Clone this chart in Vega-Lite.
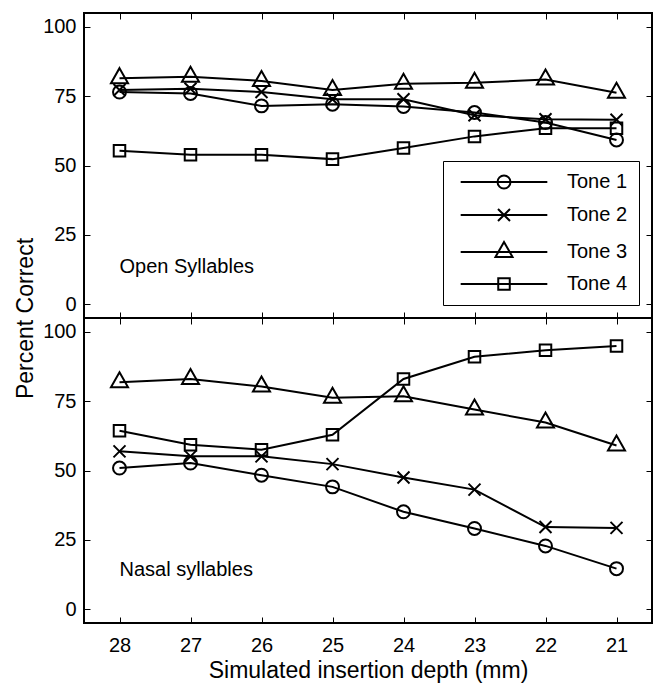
{
  "$schema": "https://vega.github.io/schema/vega-lite/v6.json",
  "padding": {"left": 13, "top": 11, "right": 6, "bottom": 5},
  "bounds": "flush",
  "spacing": 0,
  "config": {
    "view": {"stroke": "black", "strokeWidth": 2},
    "font": "Liberation Sans",
    "axis": {"grid": false, "domain": false, "tickColor": "black", "tickSize": -6, "tickWidth": 1, "labelColor": "black", "labelFont": "Liberation Sans", "labelFontSize": 20, "titleFont": "Liberation Sans", "titleFontSize": 23, "titleFontWeight": "normal", "titleColor": "black"}
  },
  "datasets": {
    "d": [
      {"panel": "Open", "tone": "Tone 1", "depth": 28, "pct": 76.5},
      {"panel": "Open", "tone": "Tone 1", "depth": 27, "pct": 76},
      {"panel": "Open", "tone": "Tone 1", "depth": 26, "pct": 71.5},
      {"panel": "Open", "tone": "Tone 1", "depth": 25, "pct": 72.1},
      {"panel": "Open", "tone": "Tone 1", "depth": 24, "pct": 71.3},
      {"panel": "Open", "tone": "Tone 1", "depth": 23, "pct": 69.1},
      {"panel": "Open", "tone": "Tone 1", "depth": 22, "pct": 65.5},
      {"panel": "Open", "tone": "Tone 1", "depth": 21, "pct": 59.2},
      {"panel": "Open", "tone": "Tone 2", "depth": 28, "pct": 77.2},
      {"panel": "Open", "tone": "Tone 2", "depth": 27, "pct": 77.7},
      {"panel": "Open", "tone": "Tone 2", "depth": 26, "pct": 76.5},
      {"panel": "Open", "tone": "Tone 2", "depth": 25, "pct": 73.9},
      {"panel": "Open", "tone": "Tone 2", "depth": 24, "pct": 73.9},
      {"panel": "Open", "tone": "Tone 2", "depth": 23, "pct": 68.1},
      {"panel": "Open", "tone": "Tone 2", "depth": 22, "pct": 66.7},
      {"panel": "Open", "tone": "Tone 2", "depth": 21, "pct": 66.5},
      {"panel": "Open", "tone": "Tone 3", "depth": 28, "pct": 81.5},
      {"panel": "Open", "tone": "Tone 3", "depth": 27, "pct": 82},
      {"panel": "Open", "tone": "Tone 3", "depth": 26, "pct": 80.5},
      {"panel": "Open", "tone": "Tone 3", "depth": 25, "pct": 77.2},
      {"panel": "Open", "tone": "Tone 3", "depth": 24, "pct": 79.5},
      {"panel": "Open", "tone": "Tone 3", "depth": 23, "pct": 79.8},
      {"panel": "Open", "tone": "Tone 3", "depth": 22, "pct": 81},
      {"panel": "Open", "tone": "Tone 3", "depth": 21, "pct": 76.2},
      {"panel": "Open", "tone": "Tone 4", "depth": 28, "pct": 55.3},
      {"panel": "Open", "tone": "Tone 4", "depth": 27, "pct": 53.9},
      {"panel": "Open", "tone": "Tone 4", "depth": 26, "pct": 53.9},
      {"panel": "Open", "tone": "Tone 4", "depth": 25, "pct": 52.3},
      {"panel": "Open", "tone": "Tone 4", "depth": 24, "pct": 56.3},
      {"panel": "Open", "tone": "Tone 4", "depth": 23, "pct": 60.5},
      {"panel": "Open", "tone": "Tone 4", "depth": 22, "pct": 63.4},
      {"panel": "Open", "tone": "Tone 4", "depth": 21, "pct": 63.4},
      {"panel": "Nasal", "tone": "Tone 1", "depth": 28, "pct": 50.9},
      {"panel": "Nasal", "tone": "Tone 1", "depth": 27, "pct": 52.7},
      {"panel": "Nasal", "tone": "Tone 1", "depth": 26, "pct": 48.3},
      {"panel": "Nasal", "tone": "Tone 1", "depth": 25, "pct": 44.1},
      {"panel": "Nasal", "tone": "Tone 1", "depth": 24, "pct": 35.1},
      {"panel": "Nasal", "tone": "Tone 1", "depth": 23, "pct": 29.1},
      {"panel": "Nasal", "tone": "Tone 1", "depth": 22, "pct": 22.8},
      {"panel": "Nasal", "tone": "Tone 1", "depth": 21, "pct": 14.6},
      {"panel": "Nasal", "tone": "Tone 2", "depth": 28, "pct": 56.9},
      {"panel": "Nasal", "tone": "Tone 2", "depth": 27, "pct": 55.1},
      {"panel": "Nasal", "tone": "Tone 2", "depth": 26, "pct": 55.1},
      {"panel": "Nasal", "tone": "Tone 2", "depth": 25, "pct": 52.3},
      {"panel": "Nasal", "tone": "Tone 2", "depth": 24, "pct": 47.5},
      {"panel": "Nasal", "tone": "Tone 2", "depth": 23, "pct": 43.1},
      {"panel": "Nasal", "tone": "Tone 2", "depth": 22, "pct": 29.6},
      {"panel": "Nasal", "tone": "Tone 2", "depth": 21, "pct": 29.3},
      {"panel": "Nasal", "tone": "Tone 3", "depth": 28, "pct": 81.8},
      {"panel": "Nasal", "tone": "Tone 3", "depth": 27, "pct": 83},
      {"panel": "Nasal", "tone": "Tone 3", "depth": 26, "pct": 80.3},
      {"panel": "Nasal", "tone": "Tone 3", "depth": 25, "pct": 76.2},
      {"panel": "Nasal", "tone": "Tone 3", "depth": 24, "pct": 76.8},
      {"panel": "Nasal", "tone": "Tone 3", "depth": 23, "pct": 72},
      {"panel": "Nasal", "tone": "Tone 3", "depth": 22, "pct": 67.3},
      {"panel": "Nasal", "tone": "Tone 3", "depth": 21, "pct": 59},
      {"panel": "Nasal", "tone": "Tone 4", "depth": 28, "pct": 64.3},
      {"panel": "Nasal", "tone": "Tone 4", "depth": 27, "pct": 59.3},
      {"panel": "Nasal", "tone": "Tone 4", "depth": 26, "pct": 57.5},
      {"panel": "Nasal", "tone": "Tone 4", "depth": 25, "pct": 62.9},
      {"panel": "Nasal", "tone": "Tone 4", "depth": 24, "pct": 83},
      {"panel": "Nasal", "tone": "Tone 4", "depth": 23, "pct": 91},
      {"panel": "Nasal", "tone": "Tone 4", "depth": 22, "pct": 93.4},
      {"panel": "Nasal", "tone": "Tone 4", "depth": 21, "pct": 94.9}
    ]
  },
  "resolve": {"scale": {"shape": "independent", "color": "independent"}, "legend": {"shape": "independent", "color": "independent"}},
  "vconcat": [
    {
      "width": 568,
      "height": 305,
      "resolve": {"axis": {"x": "independent", "y": "independent"}},
      "layer": [
        {
          "data": {"name": "d"},
          "transform": [{"filter": "datum.panel === 'Open'"}],
          "mark": {"type": "line", "color": "black", "strokeWidth": 2},
          "encoding": {
            "x": {"field": "depth", "type": "quantitative", "scale": {"domain": [28.5, 20.5], "nice": false, "zero": false}, "axis": {"orient": "bottom", "values": [21, 22, 23, 24, 25, 26, 27, 28], "labels": false, "title": null}},
            "y": {"field": "pct", "type": "quantitative", "scale": {"domain": [-5, 105], "nice": false, "zero": false}, "axis": {"orient": "left", "values": [0, 25, 50, 75, 100], "labelPadding": 14, "title": "Percent Correct", "titleY": 305, "titlePadding": 5}},
            "detail": {"field": "tone", "type": "nominal"}
          }
        },
        {
          "data": {"name": "d"},
          "transform": [{"filter": "datum.panel === 'Open'"}],
          "mark": {"type": "point", "filled": false, "strokeWidth": 2, "size": 144, "opacity": 1},
          "encoding": {
            "x": {"field": "depth", "type": "quantitative", "axis": {"orient": "top", "values": [21, 22, 23, 24, 25, 26, 27, 28], "labels": false, "title": null}},
            "y": {"field": "pct", "type": "quantitative", "axis": {"orient": "right", "values": [0, 25, 50, 75, 100], "labels": false, "title": null}},
            "shape": {
              "field": "tone", "type": "nominal",
              "scale": {"domain": ["Tone 1", "Tone 2", "Tone 3", "Tone 4"], "range": ["M1.08,0A1.08,1.08,0,1,1,-1.08,0A1.08,1.08,0,1,1,1.08,0Z", "M-1,-1L1,1M-1,1L1,-1", "M0,-1.67L1.42,0.83L-1.42,0.83Z", "M-0.96,-0.96H0.96V0.96H-0.96Z"]},
              "legend": null
            },
            "color": {
              "field": "tone", "type": "nominal",
              "scale": {"range": ["black", "black", "black", "black"]},
              "legend": {
                "orient": "bottom-right", "offset": 13, "title": null,
                "padding": 11, "strokeColor": "black", "fillColor": "white",
                "symbolSize": 144, "symbolStrokeWidth": 2, "symbolFillColor": "transparent", "symbolOpacity": 1,
                "symbolType": {"expr": "datum.value === 'Tone 1' ? 'M-7.22,0H7.22M1.08,0A1.08,1.08,0,1,1,-1.08,0A1.08,1.08,0,1,1,1.08,0Z' : datum.value === 'Tone 2' ? 'M-7.22,0H7.22M-1,-1L1,1M-1,1L1,-1' : datum.value === 'Tone 3' ? 'M-7.22,0H7.22M0,-1.67L1.42,0.83L-1.42,0.83Z' : 'M-7.22,0H7.22M-0.96,-0.96H0.96V0.96H-0.96Z'"},
                "symbolOffset": 40, "labelOffset": 53, "labelFontSize": 20, "labelFont": "Liberation Sans", "labelColor": "black",
                "rowPadding": 12, "labelExpr": "datum.label + '    \u2009'",
                "encode": {
                  "legend": {"strokeWidth": {"value": 1.5}}
                }
              }
            }
          }
        },
        {
          "data": {"values": [{"label": "Open Syllables"}]},
          "mark": {"type": "text", "align": "left", "baseline": "middle", "fontSize": 20, "font": "Liberation Sans", "color": "black"},
          "encoding": {
            "x": {"datum": 28, "type": "quantitative", "axis": null},
            "y": {"datum": 13.4, "type": "quantitative", "axis": null},
            "text": {"field": "label", "type": "nominal"}
          }
        }
      ]
    },
    {
      "width": 568,
      "height": 305,
      "resolve": {"axis": {"x": "independent", "y": "independent"}},
      "layer": [
        {
          "data": {"name": "d"},
          "transform": [{"filter": "datum.panel === 'Nasal'"}],
          "mark": {"type": "line", "color": "black", "strokeWidth": 2},
          "encoding": {
            "x": {"field": "depth", "type": "quantitative", "scale": {"domain": [28.5, 20.5], "nice": false, "zero": false}, "axis": {"orient": "bottom", "values": [21, 22, 23, 24, 25, 26, 27, 28], "labelPadding": 18, "title": "Simulated insertion depth (mm)", "titlePadding": 4}},
            "y": {"field": "pct", "type": "quantitative", "scale": {"domain": [-5, 105], "nice": false, "zero": false}, "axis": {"orient": "left", "values": [0, 25, 50, 75, 100], "labelPadding": 14, "title": null}},
            "detail": {"field": "tone", "type": "nominal"}
          }
        },
        {
          "data": {"name": "d"},
          "transform": [{"filter": "datum.panel === 'Nasal'"}],
          "mark": {"type": "point", "filled": false, "stroke": "black", "strokeWidth": 2, "size": 144, "opacity": 1},
          "encoding": {
            "x": {"field": "depth", "type": "quantitative", "axis": {"orient": "top", "values": [21, 22, 23, 24, 25, 26, 27, 28], "labels": false, "title": null}},
            "y": {"field": "pct", "type": "quantitative", "axis": {"orient": "right", "values": [0, 25, 50, 75, 100], "labels": false, "title": null}},
            "shape": {
              "field": "tone", "type": "nominal",
              "scale": {"domain": ["Tone 1", "Tone 2", "Tone 3", "Tone 4"], "range": ["M1.08,0A1.08,1.08,0,1,1,-1.08,0A1.08,1.08,0,1,1,1.08,0Z", "M-1,-1L1,1M-1,1L1,-1", "M0,-1.67L1.42,0.83L-1.42,0.83Z", "M-0.96,-0.96H0.96V0.96H-0.96Z"]},
              "legend": null
            }
          }
        },
        {
          "data": {"values": [{"label": "Nasal syllables"}]},
          "mark": {"type": "text", "align": "left", "baseline": "middle", "fontSize": 20, "font": "Liberation Sans", "color": "black"},
          "encoding": {
            "x": {"datum": 28, "type": "quantitative", "axis": null},
            "y": {"datum": 14, "type": "quantitative", "axis": null},
            "text": {"field": "label", "type": "nominal"}
          }
        }
      ]
    }
  ]
}
